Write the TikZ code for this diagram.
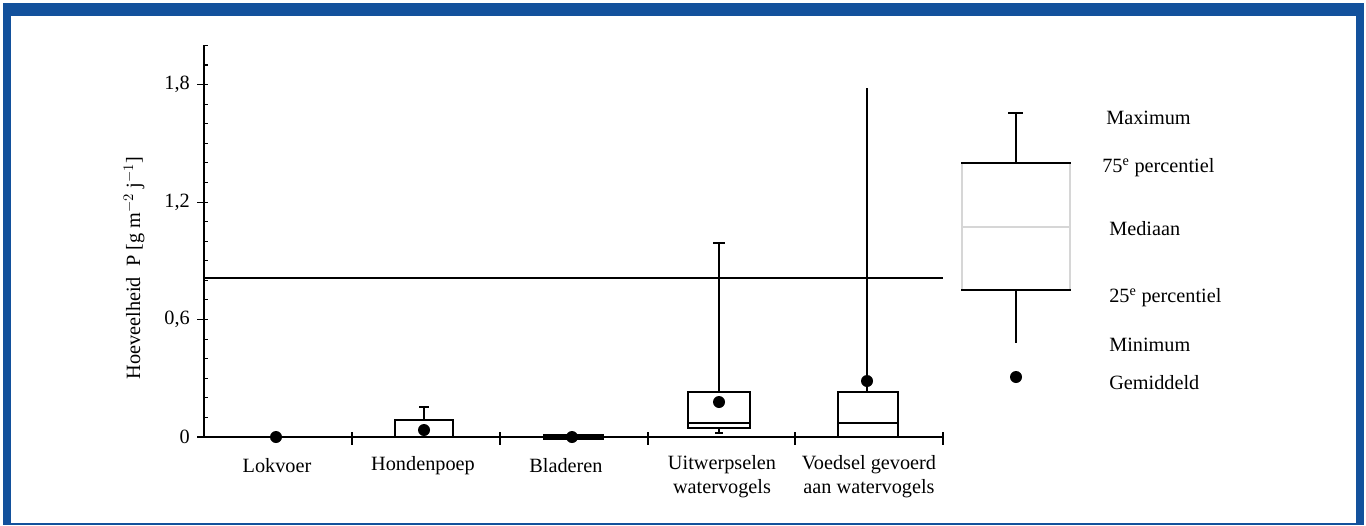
\documentclass[tikz,border=0pt]{standalone}
\usepackage{fontspec}
\setmainfont{Liberation Serif}
\definecolor{frameblue}{HTML}{13519C}
\definecolor{lightline}{HTML}{D6D6D6}
\begin{document}
\begin{tikzpicture}[x=0.75pt,y=-0.75pt,
  font=\fontsize{15.2}{18}\selectfont,
  axisline/.style={line width=1.1pt},
  boxst/.style={draw, line width=1.4pt},
  whisk/.style={line width=1.4pt},
  dotst/.style={circle, fill=black, inner sep=0pt, minimum size=9pt},
  lbl/.style={inner sep=0pt, align=center},
  leglbl/.style={inner sep=0pt, anchor=west}]
\useasboundingbox (0,0) rectangle (1366,525);
% frame
\fill[frameblue] (3,3) rectangle (1364,525);
\fill[white] (11,16) rectangle (1356,523);
% axes
\coordinate (ytop) at (204,45);
\coordinate (orig) at (204,437);
\coordinate (xend) at (943,437);
\draw[axisline] (ytop) -- (orig) -- (xend);
\foreach \v in {0,...,20} \draw[line width=0.8pt] (204,{437-19.58*\v}) -- (208,{437-19.58*\v});
\foreach \v/\t in {0/0,6/{0,6},12/{1,2},18/{1,8}} {
  \draw[line width=0.8pt] (197,{437-19.58*\v}) -- (208,{437-19.58*\v});
  \node[inner sep=0pt, anchor=east] at (190,{437-19.58*\v}) {\t};
}
\foreach \x in {352,500,648,795,943} \draw[line width=0.9pt] (\x,432) -- (\x,445);
% threshold line
\coordinate (thl) at (204,278);
\coordinate (thr) at (943,278);
\draw[line width=1.4pt] (thl) -- (thr);
% y label
\node[rotate=90, inner sep=0pt] (ylab) at (134,268) {Hoeveelheid\ \ P [g m$^{-2}$ j$^{-1}$]};
% Lokvoer
\node[dotst] (d1) at (276,437) {};
% Hondenpoep
\draw[boxst] (395,420) rectangle (453,437);
\draw[whisk] (424,420) -- (424,407);
\draw[whisk] (419,407) -- (429,407);
\node[dotst] (d2) at (424,430) {};
% Bladeren
\fill (543,434) rectangle (604,440);
\node[dotst] (d3) at (572,437) {};
% Uitwerpselen
\draw[boxst] (688,392) rectangle (750,428);
\draw[whisk] (688,423) -- (750,423);
\draw[whisk] (719,392) -- (719,243);
\draw[whisk] (713,243) -- (725,243);
\draw[whisk] (719,428) -- (719,433);
\draw[whisk] (715,433) -- (723,433);
\node[dotst] (d4) at (719,402) {};
% Voedsel
\draw[boxst] (838,392) rectangle (898,437);
\draw[whisk] (838,423) -- (898,423);
\draw[whisk] (867,392) -- (867,88);
\node[dotst] (d5) at (867,381) {};
% category labels
\node[lbl] (c1) at (277,466) {Lokvoer};
\node[lbl] (c2) at (423,466) {Hondenpoep};
\node[lbl] (c3) at (566,466) {Bladeren};
\node[lbl, anchor=north] (c4) at (722,455) {Uitwerpselen\\[0pt]watervogels};
\node[lbl, anchor=north] (c5) at (869,455) {Voedsel gevoerd\\[0pt]aan watervogels};
% legend box
\draw[lightline, line width=0.8pt] (962,163) rectangle (1070,290);
\draw[lightline, line width=0.8pt] (962,227) -- (1070,227);
\draw[line width=1.6pt] (961,163) -- (1071,163);
\draw[line width=1.6pt] (961,290) -- (1071,290);
\draw[whisk] (1016,163) -- (1016,113);
\draw[whisk] (1008,113) -- (1023,113);
\draw[whisk] (1016,290) -- (1016,343);
\node[dotst] (ld) at (1016,377) {};
\node[leglbl] (l1) at (1106,118) {Maximum};
\node[leglbl] (l2) at (1102,168) {75\textsuperscript{e} percentiel};
\node[leglbl] (l3) at (1109,229) {Mediaan};
\node[leglbl] (l4) at (1109,298) {25\textsuperscript{e} percentiel};
\node[leglbl] (l5) at (1109,345) {Minimum};
\node[leglbl] (l6) at (1109,383) {Gemiddeld};
\end{tikzpicture}
\end{document}
